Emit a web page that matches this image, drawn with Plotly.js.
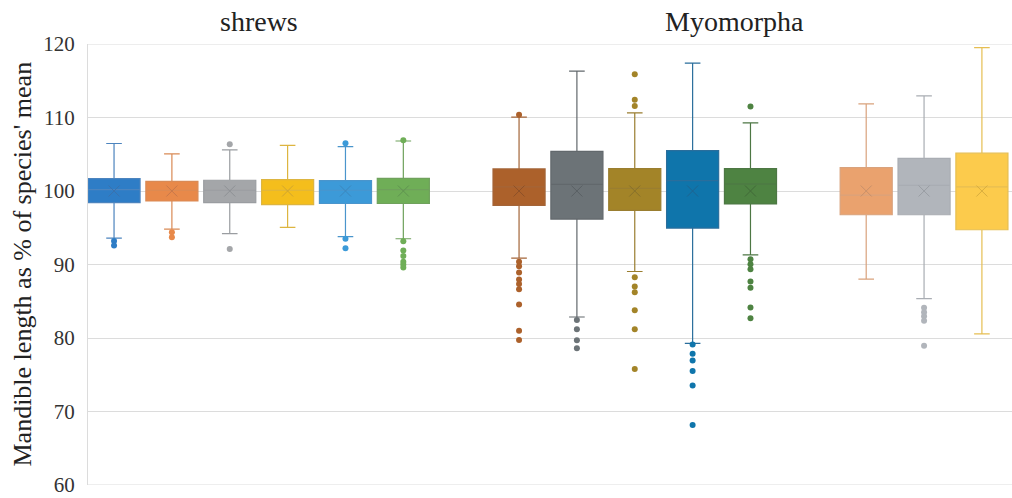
<!DOCTYPE html>
<html>
<head>
<meta charset="utf-8">
<script src="https://cdn.plot.ly/plotly-3.0.1.min.js"></script>
<style>html,body{margin:0;padding:0;background:#fff;}#chart{width:1012px;height:498px;}</style>
</head>
<body>
<div id="chart"></div>
<script>
// Category order on the x axis (blank entries are the gaps between groups)
const categories = ['shrew 1','shrew 2','shrew 3','shrew 4','shrew 5','shrew 6',' ',
  'Myomorpha 1','Myomorpha 2','Myomorpha 3','Myomorpha 4','Myomorpha 5','  ',
  'Myomorpha 6','Myomorpha 7','Myomorpha 8'];
const boxNames = ['shrew 1','shrew 2','shrew 3','shrew 4','shrew 5','shrew 6',
  'Myomorpha 1','Myomorpha 2','Myomorpha 3','Myomorpha 4','Myomorpha 5',
  'Myomorpha 6','Myomorpha 7','Myomorpha 8'];
const lowerFence = [93.6, 94.8, 94.2, 95.05, 93.8, 93.5, 90.86, 82.86, 89.05, 79.27, 91.32, 88.0, 85.36, 80.55];
const q1Values   = [98.42, 98.64, 98.42, 98.15, 98.3, 98.3, 98.05, 96.18, 97.36, 94.95, 98.23, 96.77, 96.77, 94.73];
const medians    = [100.2, 100.1, 100.1, 100.1, 100.1, 100.2, 100.55, 100.9, 100.36, 101.4, 100.95, 99.45, 100.77, 100.55];
const q3Values   = [101.69, 101.32, 101.46, 101.55, 101.4, 101.73, 103.0, 105.4, 103.05, 105.5, 103.05, 103.18, 104.45, 105.14];
const upperFence = [106.46, 105.04, 105.6, 106.2, 106.05, 106.8, 110.05, 116.3, 110.64, 117.4, 109.27, 111.86, 112.95, 119.5];
const means      = [100, 100, 100, 100, 100, 100, 100, 100, 100, 100, 100, 100, 100, 100];
const outliers = [
  [93.2, 92.6],
  [94.4, 93.7],
  [106.36, 92.1],
  [],
  [106.5, 93.5, 92.2],
  [106.9, 93.15, 91.9, 91.14, 90.38, 90.0, 89.6],
  [110.36, 90.36, 89.77, 88.9, 87.95, 87.36, 86.64, 84.55, 81.0, 79.73],
  [82.45, 81.18, 79.68, 78.6],
  [115.9, 112.4, 111.55, 88.27, 87.0, 86.23, 83.77, 81.18, 75.77],
  [79.1, 77.86, 76.95, 75.5, 73.55, 68.18],
  [111.5, 90.73, 90.05, 89.36, 87.68, 86.82, 84.14, 82.68],
  [],
  [84.1, 83.5, 82.95, 82.36, 78.95],
  []
];
const groupTitles = ['shrews', 'Myomorpha'];
const yTicks = [60, 70, 80, 90, 100, 110, 120];

// styles
const fills = ['#2E7DC6','#E8894A','#A4A6A9','#F4BE1C','#3C9AD8','#6FAE57',
  '#AC612B','#6C7377','#A38428','#0F75AB','#4E8342',
  '#EAA26E','#B1B5BB','#FCCB4C'];
const lines = ['#4C84BE','#D98A55','#9A9DA1','#DDB540','#4A95CC','#6FA15C',
  '#A46538','#62686C','#9A7E30','#2A6E9C','#4D7744',
  '#D9A27C','#A9ADB3','#E6BE52'];
const marks = ['#3A72AE','#C8784A','#8E9195','#CFA530','#3B87BD','#5F9450',
  '#8E5128','#5A6064','#86702A','#1E6490','#416A38',
  '#C8906A','#9A9EA4','#D9AE3E'];

const traces = [];
boxNames.forEach((n, i) => {
  traces.push({
    type: 'box', name: n, x: [n],
    q1: [q1Values[i]], median: [medians[i]], q3: [q3Values[i]],
    lowerfence: [lowerFence[i]], upperfence: [upperFence[i]],
    boxpoints: false, width: 0.9, whiskerwidth: 0.3,
    fillcolor: fills[i], line: {color: lines[i], width: 1.2},
    hoverinfo: 'skip', showlegend: false
  });
});
boxNames.forEach((n, i) => {
  if (outliers[i].length) traces.push({
    type: 'scatter', mode: 'markers', x: outliers[i].map(() => n), y: outliers[i],
    marker: {color: fills[i], size: 6, line: {width: 0}}, showlegend: false, hoverinfo: 'skip'
  });
  traces.push({
    type: 'scatter', mode: 'markers', x: [n], y: [means[i]],
    marker: {symbol: 'x-thin', size: 11, line: {color: marks[i], width: 1}}, showlegend: false, hoverinfo: 'skip'
  });
});

const layout = {
  width: 1012, height: 498,
  margin: {l: 88, r: 0, t: 44, b: 13},
  paper_bgcolor: '#ffffff', plot_bgcolor: '#ffffff',
  font: {family: 'Liberation Serif, Times New Roman, serif', color: '#222'},
  showlegend: false,
  xaxis: {
    type: 'category', categoryorder: 'array', categoryarray: categories,
    range: [-0.45, 15.52], showticklabels: false, showgrid: false, zeroline: false,
    ticks: '', showline: false, fixedrange: true
  },
  yaxis: {
    range: [60, 120], tickvals: yTicks, ticktext: yTicks.map(String),
    tickfont: {size: 21, color: '#333'}, ticks: '', ticklabelstandoff: 8,
    showgrid: true, gridcolor: '#DCDCDC', gridwidth: 1, zeroline: false,
    showline: true, linecolor: '#DCDCDC', linewidth: 1,
    fixedrange: true
  },
  annotations: [
    {text: "Mandible length as % of species' mean", xref: 'paper', x: -0.0714, xanchor: 'center',
     yref: 'paper', y: 0.5, yanchor: 'middle', textangle: -90, showarrow: false, font: {size: 26, color: '#222'}},
    {text: groupTitles[0], xref: 'x', x: 2.5, yref: 'paper', y: 1.05, yanchor: 'middle', showarrow: false, font: {size: 28, color: '#222'}},
    {text: groupTitles[1], xref: 'x', x: 10.73, yref: 'paper', y: 1.05, yanchor: 'middle', showarrow: false, font: {size: 28, color: '#222'}}
  ],
  shapes: [
    {type: 'line', xref: 'paper', yref: 'y', x0: 0, x1: 1, y0: 120, y1: 120, line: {color: '#DCDCDC', width: 1}, layer: 'below'},
    {type: 'line', xref: 'paper', yref: 'y', x0: 0, x1: 1, y0: 60, y1: 60, line: {color: '#DCDCDC', width: 1}, layer: 'below'}
  ]
};
Plotly.newPlot('chart', traces, layout, {displayModeBar: false, staticPlot: true});
</script>
</body>
</html>
